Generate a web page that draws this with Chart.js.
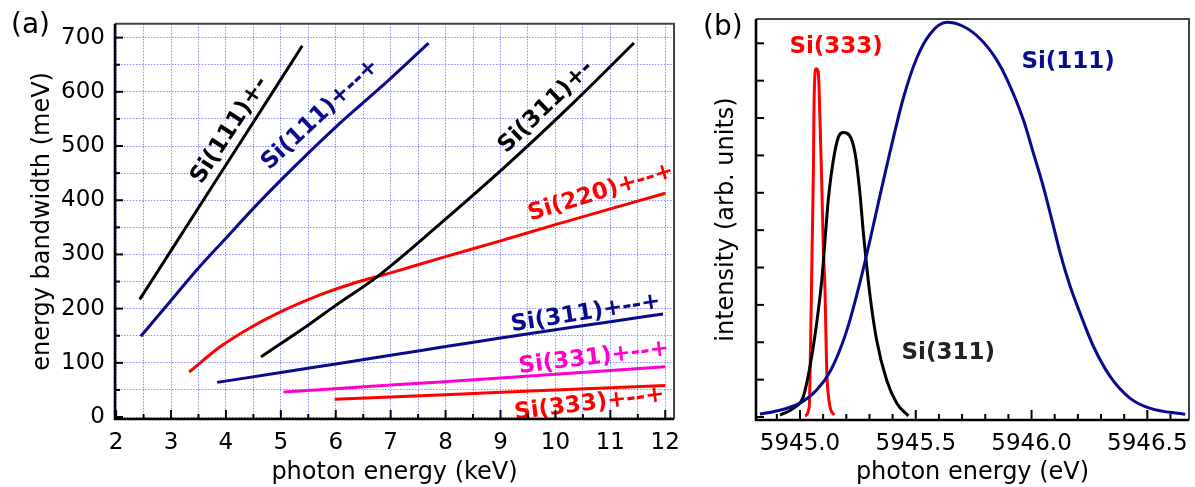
<!DOCTYPE html>
<html>
<head>
<meta charset="utf-8">
<script src="https://cdn.jsdelivr.net/npm/chart.js@4.4.1/dist/chart.umd.min.js"></script>
<style>
    html, body { margin: 0; padding: 0; background: #fff; }
    #boxA { position: absolute; left: 0; top: 0; }
    #boxB { position: absolute; left: 690px; top: 0; }
</style>
</head>
<body>
<canvas id="boxA" width="690" height="487"></canvas>
<canvas id="boxB" width="505" height="487"></canvas>
<script>
"use strict";

// ---- panel (a): bandwidth vs photon energy ----
var si111PmX   = [2.43, 3.0, 4.0, 5.0, 5.39];
var si111PmY   = [217, 307, 465, 623, 685];
var si111PmmpX = [2.45, 3.0, 3.5, 4.0, 4.5, 5.0, 5.5, 6.0, 6.5, 7.0, 7.69];
var si111PmmpY = [149, 215, 275, 330, 385, 437, 487, 535, 580, 625, 690];
var si311PmX   = [4.64, 5.5, 6.0, 6.77, 7.93, 9.13, 10.33, 11.43];
var si311PmY   = [111, 170, 206, 260, 359, 466, 580, 690];
var si220X     = [3.33, 3.9, 4.5, 5.1, 5.7, 6.3, 7.0, 8.0, 9.0, 10.0, 11.0, 12.0];
var si220Y     = [83, 130, 168, 199, 225, 246, 266, 296, 325, 355, 384, 413];
var si311PmmpX = [3.84, 5.0, 6.0, 7.0, 8.0, 9.0, 10.0, 11.0, 11.96];
var si311PmmpY = [64, 82, 98, 114, 130, 146, 161, 176, 190];
var si331X     = [5.05, 7.0, 9.0, 12.0];
var si331Y     = [46, 59, 72, 93];
var si333X     = [5.98, 8.0, 10.0, 12.0];
var si333Y     = [33, 41, 50, 58];

// ---- panel (b): intensity vs photon energy ----
var b111X = [5944.827, 5944.885, 5945.0, 5945.072, 5945.13, 5945.18, 5945.216, 5945.259, 5945.303,
             5945.35, 5945.389, 5945.447, 5945.504, 5945.562, 5945.634, 5945.706, 5945.778, 5945.85,
             5945.893, 5945.965, 5946.008, 5946.051, 5946.088, 5946.124, 5946.167, 5946.21, 5946.268,
             5946.34, 5946.426, 5946.513, 5946.664];
var b111Y = [0.08, 0.14, 0.37, 0.72, 1.22, 1.92, 2.6, 3.6, 4.75,
             6.05, 7.1, 8.55, 9.6, 10.25, 10.56, 10.45, 10.12, 9.55,
             9.05, 7.95, 7.06, 6.16, 5.27, 4.38, 3.49, 2.77, 1.88,
             1.08, 0.5, 0.23, 0.07];
var b311X = [5944.914, 5944.971, 5945.014, 5945.043, 5945.072, 5945.094, 5945.108, 5945.122, 5945.144,
             5945.166, 5945.187, 5945.213, 5945.238, 5945.259, 5945.274, 5945.303, 5945.331, 5945.374,
             5945.418, 5945.468];
var b311Y = [0.05, 0.23, 0.54, 1.35, 2.51, 3.66, 4.73, 5.8, 6.87,
             7.49, 7.61, 7.54, 7.05, 5.98, 4.91, 3.22, 2.06, 0.99,
             0.37, 0.03];
var b333X = [5945.022, 5945.04, 5945.046, 5945.053, 5945.058, 5945.061, 5945.069, 5945.079, 5945.086,
             5945.094, 5945.101, 5945.108, 5945.115, 5945.127, 5945.147];
var b333Y = [0.03, 0.28, 2.06, 4.73, 6.69, 8.48, 9.32, 9.23, 8.03,
             6.25, 4.47, 3.4, 1.35, 0.37, 0.05];

var FONT = '"DejaVu Sans", Verdana, sans-serif';
var NAVY = '#0a0a8c';
var RED = '#ff0000';
var MAGENTA = '#ff00cc';
var GRID = 'rgba(60, 60, 255, 0.6)';

// curve labels, placed in data coordinates
var labelsA = [
    { text: 'Si(111)+-',   x: 4.07,  y: 529, angle: 57, color: '#000' },
    { text: 'Si(111)+--+', x: 5.72,  y: 558, angle: 43, color: NAVY },
    { text: 'Si(311)+-',   x: 9.83,  y: 572, angle: 44, color: '#000' },
    { text: 'Si(220)+--+', x: 10.83, y: 414, angle: 17, color: RED },
    { text: 'Si(311)+--+', x: 10.55, y: 191, angle: 9,  color: NAVY },
    { text: 'Si(331)+--+', x: 10.7,  y: 109, angle: 7,  color: MAGENTA },
    { text: 'Si(333)+--+', x: 10.62, y: 24,  angle: 7,  color: RED }
];
var labelsB = [
    { text: 'Si(333)', x: 5945.156, y: 9.89, angle: 0, color: RED },
    { text: 'Si(111)', x: 5946.158, y: 9.49, angle: 0, color: NAVY },
    { text: 'Si(311)', x: 5945.64,  y: 1.71, angle: 0, color: '#222' }
];

function toPoints(xs, ys) {
    return xs.map(function (x, i) { return { x: x, y: ys[i] }; });
}

function isStep(v, step) {
    var r = v / step;
    return Math.abs(r - Math.round(r)) < 1e-6;
}

function stepTicks(axis, step) {
    var out = [];
    var v = Math.ceil(axis.min / step - 1e-9) * step;
    while (v <= axis.max + 1e-9) {
        out.push({ value: Math.round(v * 1000) / 1000 });
        v += step;
    }
    axis.ticks = out;
}

function line(xs, ys, color) {
    return {
        data: toPoints(xs, ys),
        borderColor: color,
        borderWidth: 3,
        pointRadius: 0,
        fill: false,
        cubicInterpolationMode: 'monotone'
    };
}

var curveLabels = {
    id: 'curveLabels',
    afterDatasetsDraw: function (chart, args, opts) {
        var ctx = chart.ctx;
        var xs = chart.scales.x, ys = chart.scales.y;
        (opts.items || []).forEach(function (it) {
            ctx.save();
            ctx.translate(xs.getPixelForValue(it.x), ys.getPixelForValue(it.y));
            ctx.rotate(-it.angle * Math.PI / 180);
            ctx.font = 'bold 23px ' + FONT;
            ctx.fillStyle = it.color;
            ctx.textAlign = 'center';
            ctx.textBaseline = 'middle';
            ctx.fillText(it.text, 0, 0);
            ctx.restore();
        });
    }
};

// frame, inward ticks and panel letter
var frameTicks = {
    id: 'frameTicks',
    afterDraw: function (chart, args, opts) {
        var ctx = chart.ctx, a = chart.chartArea;
        var xs = chart.scales.x, ys = chart.scales.y;
        ctx.save();
        ctx.strokeStyle = '#000';
        ctx.lineWidth = 2;
        xs.ticks.forEach(function (t) {
            var px = xs.getPixelForValue(t.value);
            var len = isStep(t.value, opts.xMajor) ? opts.xLen[0] : opts.xLen[1];
            ctx.beginPath();
            ctx.moveTo(px, a.bottom);
            ctx.lineTo(px, a.bottom - len);
            ctx.stroke();
        });
        ys.ticks.forEach(function (t) {
            var py = ys.getPixelForValue(t.value);
            var len = isStep(t.value, opts.yMajor) ? opts.yLen[0] : opts.yLen[1];
            ctx.beginPath();
            ctx.moveTo(a.left, py);
            ctx.lineTo(a.left + len, py);
            ctx.stroke();
        });

        ctx.strokeStyle = '#444';
        ctx.lineWidth = 2;
        ctx.beginPath();
        ctx.moveTo(a.left, a.top);
        ctx.lineTo(a.right, a.top);
        ctx.lineTo(a.right, a.bottom);
        ctx.stroke();

        ctx.strokeStyle = '#000';
        ctx.lineWidth = 2.6;
        ctx.beginPath();
        ctx.moveTo(a.left, a.top);
        ctx.lineTo(a.left, a.bottom);
        ctx.lineTo(a.right, a.bottom);
        ctx.stroke();

        ctx.font = '28px ' + FONT;
        ctx.fillStyle = '#000';
        ctx.textAlign = 'left';
        ctx.textBaseline = 'middle';
        ctx.fillText(opts.letter, opts.letterX, opts.letterY);
        ctx.restore();
    }
};

function tickFont() { return { family: FONT, size: 23 }; }
function titleFont() { return { family: FONT, size: 24 }; }

new Chart(document.getElementById('boxA').getContext('2d'), {
    type: 'line',
    data: {
        datasets: [
            line(si111PmX, si111PmY, '#000'),
            line(si111PmmpX, si111PmmpY, NAVY),
            line(si311PmX, si311PmY, '#000'),
            line(si220X, si220Y, RED),
            line(si311PmmpX, si311PmmpY, NAVY),
            line(si331X, si331Y, MAGENTA),
            line(si333X, si333Y, RED)
        ]
    },
    plugins: [curveLabels, frameTicks],
    options: {
        responsive: false,
        animation: false,
        layout: { padding: { left: 0, right: 8, top: 19, bottom: 0 } },
        plugins: {
            legend: { display: false },
            tooltip: { enabled: false },
            curveLabels: { items: labelsA },
            frameTicks: { xMajor: 1, yMajor: 100, xLen: [9, 5], yLen: [8, 5], letter: '(a)', letterX: 11, letterY: 26 }
        },
        scales: {
            x: {
                type: 'linear', min: 1.98, max: 12.16,
                afterBuildTicks: function (axis) { stepTicks(axis, 0.5); },
                afterFit: function (s) { s.height = 68; },
                ticks: {
                    autoSkip: false, maxRotation: 0, padding: 10, color: '#000', font: tickFont(),
                    callback: function (v) { return isStep(v, 1) ? String(Math.round(v)) : ''; }
                },
                grid: { drawTicks: false, lineWidth: 1, color: function (c) { return c.tick && isStep(c.tick.value, 0.5) ? GRID : 'rgba(0,0,0,0)'; } },
                border: { display: false, dash: [1.5, 1.5] },
                title: { display: true, text: 'photon energy (keV)', color: '#000', font: titleFont(), padding: { top: 0, bottom: 0 } }
            },
            y: {
                type: 'linear', min: -3.6, max: 725.5,
                afterBuildTicks: function (axis) { stepTicks(axis, 50); },
                afterFit: function (s) { s.width = 115; },
                ticks: {
                    autoSkip: false, padding: 10, color: '#000', font: tickFont(),
                    callback: function (v) { return isStep(v, 100) ? String(Math.round(v)) : ''; }
                },
                grid: { drawTicks: false, lineWidth: 1, color: function (c) { return c.tick && isStep(c.tick.value, 50) ? GRID : 'rgba(0,0,0,0)'; } },
                border: { display: false, dash: [1.5, 1.5] },
                title: { display: true, text: 'energy bandwidth (meV)', color: '#000', font: titleFont(), padding: { top: 28, bottom: 0 } }
            }
        }
    }
});

new Chart(document.getElementById('boxB').getContext('2d'), {
    type: 'line',
    data: {
        datasets: [
            line(b111X, b111Y, NAVY),
            line(b311X, b311Y, '#000'),
            line(b333X, b333Y, RED)
        ]
    },
    plugins: [curveLabels, frameTicks],
    options: {
        responsive: false,
        animation: false,
        layout: { padding: { left: 0, right: 6, top: 19, bottom: 0 } },
        plugins: {
            legend: { display: false },
            tooltip: { enabled: false },
            curveLabels: { items: labelsB },
            frameTicks: { xMajor: 0.5, yMajor: 1, xLen: [10, 6], yLen: [8, 8], letter: '(b)', letterX: 13, letterY: 28 }
        },
        scales: {
            x: {
                type: 'linear', min: 5944.81, max: 5946.68,
                afterBuildTicks: function (axis) { stepTicks(axis, 0.1); },
                afterFit: function (s) { s.height = 67; },
                ticks: {
                    autoSkip: false, maxRotation: 0, padding: 10, color: '#000', font: tickFont(),
                    callback: function (v) { return isStep(v, 0.5) ? v.toFixed(1) : ''; }
                },
                grid: { display: false, drawTicks: false },
                border: { display: false },
                title: { display: true, text: 'photon energy (eV)', color: '#000', font: titleFont(), padding: { top: 0, bottom: 0 } }
            },
            y: {
                type: 'linear', min: -0.08, max: 10.65,
                afterBuildTicks: function (axis) { stepTicks(axis, 1); },
                afterFit: function (s) { s.width = 66; },
                ticks: { display: false },
                grid: { display: false, drawTicks: false },
                border: { display: false },
                title: { display: true, text: 'intensity (arb. units)', color: '#000', font: titleFont(), padding: { top: 22, bottom: 0 } }
            }
        }
    }
});
</script>
</body>
</html>
